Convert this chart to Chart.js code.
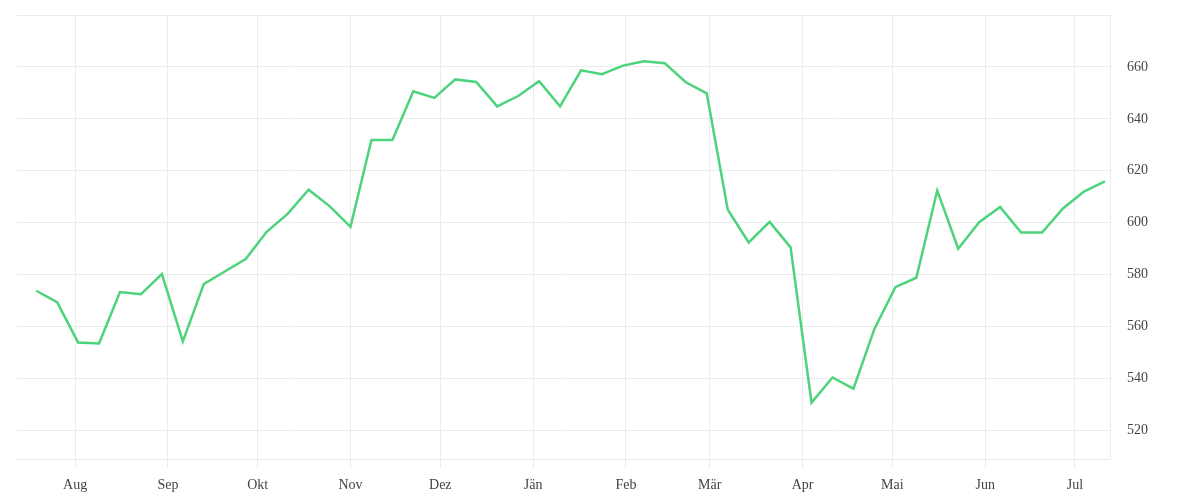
<!DOCTYPE html>
<html>
<head>
<meta charset="utf-8">
<script src="https://cdn.jsdelivr.net/npm/chart.js@4"></script>
<style>
  html, body { margin: 0; padding: 0; background: #fff; }
  #wrap { width: 1200px; height: 500px; }
</style>
</head>
<body>
<div id="wrap"><canvas id="chart" width="1200" height="500"></canvas></div>
<script>
// weekly points
let weeks = [
  '2018-07-19', '2018-07-26', '2018-08-02', '2018-08-09', '2018-08-16', '2018-08-23', '2018-08-30',
  '2018-09-06', '2018-09-13', '2018-09-20', '2018-09-27', '2018-10-04', '2018-10-11', '2018-10-18',
  '2018-10-25', '2018-11-01', '2018-11-08', '2018-11-15', '2018-11-22', '2018-11-29', '2018-12-06',
  '2018-12-13', '2018-12-20', '2018-12-27', '2019-01-03', '2019-01-10', '2019-01-17', '2019-01-24',
  '2019-01-31', '2019-02-07', '2019-02-14', '2019-02-21', '2019-02-28', '2019-03-07', '2019-03-14',
  '2019-03-21', '2019-03-28', '2019-04-04', '2019-04-11', '2019-04-18', '2019-04-25', '2019-05-02',
  '2019-05-09', '2019-05-16', '2019-05-23', '2019-05-30', '2019-06-06', '2019-06-13', '2019-06-20',
  '2019-06-27', '2019-07-04', '2019-07-11'
];
let values = [
  573.8, 569.4, 553.9, 553.5, 573.3, 572.5, 580.2,
  554.3, 576.4, 581.2, 586.0, 596.5, 603.4, 612.7,
  606.4, 598.4, 631.9, 631.9, 650.6, 648.1, 655.2,
  654.2, 644.8, 648.8, 654.5, 644.8, 658.7, 657.2,
  660.5, 662.2, 661.4, 654.1, 649.8, 605.1, 592.4,
  600.3, 590.5, 530.7, 540.4, 536.1, 559.1, 575.2,
  578.8, 612.4, 590.0, 600.2, 606.1, 596.2, 596.2,
  605.5, 612.0, 615.9
];
let monthStarts = [
  '2018-08-01', '2018-09-01', '2018-10-01', '2018-11-01', '2018-12-01', '2019-01-01',
  '2019-02-01', '2019-03-01', '2019-04-01', '2019-05-01', '2019-06-01', '2019-07-01'
];
let monthLabels = ['Aug', 'Sep', 'Okt', 'Nov', 'Dez', 'Jän', 'Feb', 'Mär', 'Apr', 'Mai', 'Jun', 'Jul'];
let yTicks = [520, 540, 560, 580, 600, 620, 640, 660, 680];

// days counted from 1 Aug
function dayOf(s) {
  let p = s.split('-');
  return (Date.UTC(+p[0], +p[1] - 1, +p[2]) - Date.UTC(2018, 7, 1)) / 86400000;
}

let points = weeks.map(function (d, i) { return { x: dayOf(d), y: values[i] }; });
let monthDays = monthStarts.map(dayOf);

let textFont = { family: "'Liberation Serif', 'DejaVu Serif', serif", size: 14 };
let gridColor = '#ebebeb';

new Chart('chart', {
  type: 'line',
  data: {
    datasets: [{
      data: points,
      borderColor: '#4cd37c',
      borderWidth: 2.5,
      pointRadius: 0,
      tension: 0,
      fill: false
    }]
  },
  options: {
    responsive: false,
    animation: false,
    layout: { padding: { left: 17, top: 15, right: 0, bottom: 0 } },
    plugins: { legend: { display: false }, tooltip: { enabled: false } },
    scales: {
      x: {
        type: 'linear',
        min: -19.4,
        max: 345.7,
        afterBuildTicks: function (scale) {
          scale.ticks = monthDays.map(function (v) { return { value: v }; });
        },
        afterFit: function (scale) {
          scale.height = 41;
          scale.paddingLeft = 0;
          scale.paddingRight = 0;
        },
        ticks: {
          autoSkip: false,
          maxRotation: 0,
          color: '#444',
          font: textFont,
          padding: 9,
          callback: function (value) {
            let i = monthDays.indexOf(value);
            return i >= 0 ? monthLabels[i] : '';
          }
        },
        grid: { color: gridColor, tickLength: 9, drawTicks: true },
        border: { color: gridColor }
      },
      y: {
        position: 'right',
        min: 509,
        max: 680,
        afterBuildTicks: function (scale) {
          scale.ticks = yTicks.map(function (v) { return { value: v }; });
        },
        afterFit: function (scale) {
          scale.width = 90;
          scale.paddingTop = 0;
          scale.paddingBottom = 0;
        },
        ticks: {
          color: '#444',
          font: textFont,
          padding: 17,
          callback: function (value) { return value === 680 ? '' : value; }
        },
        grid: { color: gridColor, drawTicks: false },
        border: { color: gridColor }
      }
    }
  }
});
</script>
</body>
</html>
